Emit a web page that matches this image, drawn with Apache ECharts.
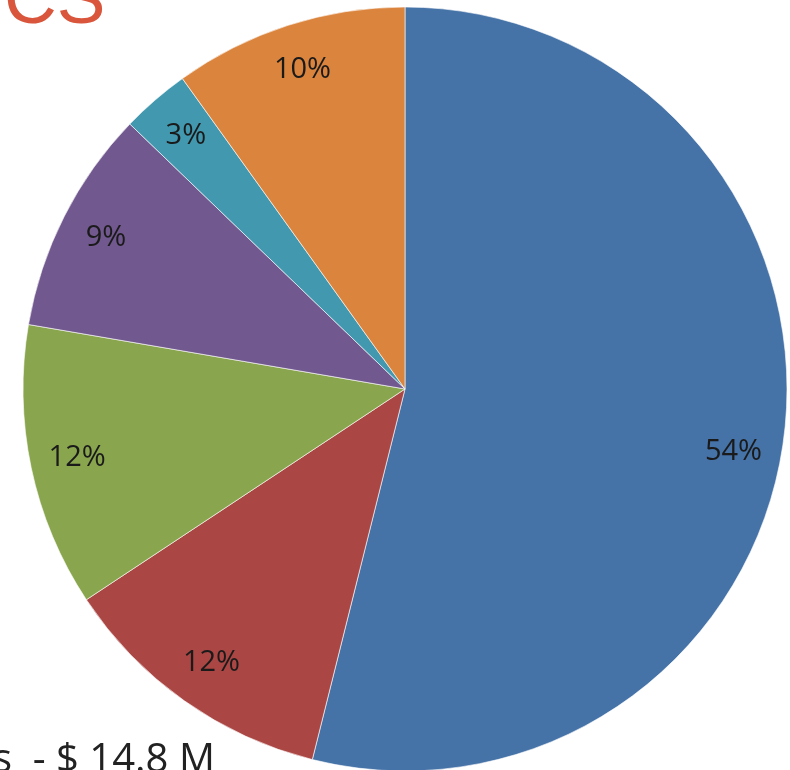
<!DOCTYPE html>
<html>
<head>
<meta charset="utf-8">
<script src="https://cdn.jsdelivr.net/npm/echarts@6/dist/echarts.min.js"></script>
<style>html,body{margin:0;padding:0;background:#fff}#c{width:790px;height:770px}</style>
</head>
<body>
<div id="c"></div>
<script>
const categories = ['A', 'B', 'C', 'D', 'E', 'F'];
const values = [53.9, 11.8, 12.0, 9.5, 2.9, 9.9];
const colors = ['#4572a7', '#aa4643', '#89a54e', '#71588f', '#4198af', '#db843d'];
const titleText = 'CS';
const footText = 's  - $ 14.8 M';

const data = categories.map((c, i) => ({ name: c, value: values[i], itemStyle: { color: colors[i] } }));
const total = values.reduce((a, b) => a + b, 0);

const chart = echarts.init(document.getElementById('c'));
chart.setOption({
  animation: false,
  series: [
    {
      type: 'pie',
      center: [405, 389],
      radius: [0, 382],
      startAngle: 90,
      clockwise: true,
      silent: true,
      label: { show: false },
      labelLine: { show: false },
      itemStyle: { borderColor: 'rgba(255,255,255,0.6)', borderWidth: 1 },
      data: data
    },
    {
      type: 'pie',
      center: [405, 389],
      radius: [282, 382],
      startAngle: 90,
      clockwise: true,
      silent: true,
      itemStyle: { color: 'rgba(0,0,0,0)' },
      label: {
        show: true,
        position: 'inside',
        fontFamily: 'Open Sans',
        fontSize: 29,
        color: '#1a1a1a',
        formatter: p => Math.round(p.value / total * 100) + '%'
      },
      labelLine: { show: false },
      data: categories.map((c, i) => ({
        name: c,
        value: values[i],
        label: i === 0 ? { offset: [-4, 22] } : {}
      }))
    }
  ],
  graphic: [
    {
      type: 'text',
      left: 4,
      top: -34,
      style: { text: titleText, font: '73px "Liberation Sans"', fill: '#d9553b' }
    },
    {
      type: 'text',
      left: -7,
      top: 741,
      style: { text: footText, font: '40px "Open Sans"', fill: '#222222' }
    }
  ]
});
</script>
</body>
</html>
